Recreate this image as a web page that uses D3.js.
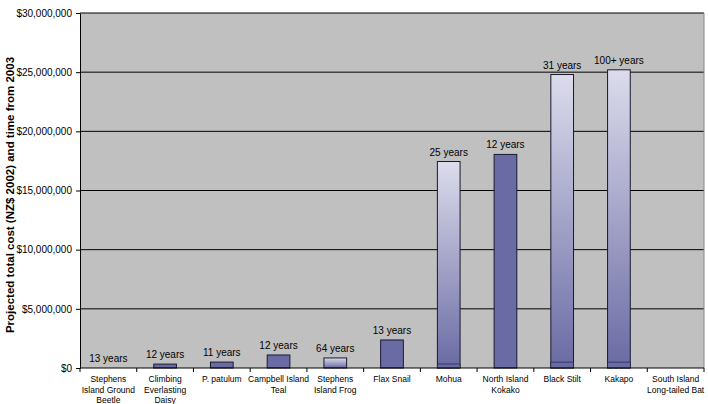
<!DOCTYPE html>
<head>
  <meta charset="utf-8">
  <script src="https://d3js.org/d3.v7.min.js"></script>
  <style>
    body { margin:0; background:#fff; }
    text { font-family: "Liberation Sans", Arial, sans-serif; fill:#000; }
  </style>
</head>
<body>
<script>
// Data
var categories = ["Stephens Island Ground Beetle", "Climbing Everlasting Daisy", "P. patulum",
  "Campbell Island Teal", "Stephens Island Frog", "Flax Snail", "Mohua", "North Island Kokako",
  "Black Stilt", "Kakapo", "South Island Long-tailed Bat"];
var categoryLines = [["Stephens", "Island Ground", "Beetle"], ["Climbing", "Everlasting", "Daisy"],
  ["P. patulum"], ["Campbell Island", "Teal"], ["Stephens", "Island Frog"], ["Flax Snail"],
  ["Mohua"], ["North Island", "Kokako"], ["Black Stilt"], ["Kakapo"], ["South Island", "Long-tailed Bat"]];
var totalCost = [0, 330000, 500000, 1100000, 850000, 2370000, 17450000, 18050000, 24800000, 25200000, 0];
var baseCost = [0, 0, 0, 0, 0, 0, 340000, 0, 500000, 500000, 0];
var gradientBar = [false, false, false, false, true, false, true, false, true, true, false];
var yearLabels = ["13 years", "12 years", "11 years", "12 years", "64 years", "13 years",
  "25 years", "12 years", "31 years", "100+ years", ""];
var yTicks = [0, 5000000, 10000000, 15000000, 20000000, 25000000, 30000000];

var width = 708, height = 404;
var margin = {top: 13, right: 4, bottom: 36, left: 80};

var svg = d3.select("body").append("svg")
  .attr("width", width)
  .attr("height", height);

var defs = svg.append("defs");
var grad = defs.append("linearGradient")
  .attr("id", "barGrad")
  .attr("x1", 0).attr("y1", 0).attr("x2", 0).attr("y2", 1);
grad.append("stop").attr("offset", "0%").attr("stop-color", "#dcdcec");
grad.append("stop").attr("offset", "100%").attr("stop-color", "#6a6aa4");

var x = d3.scaleBand()
  .domain(categories)
  .range([margin.left, width - margin.right])
  .paddingInner(0.6)
  .paddingOuter(0.3);

var y = d3.scaleLinear()
  .domain([0, 30000000])
  .range([height - margin.bottom, margin.top]);

// plot background
svg.append("rect")
  .attr("x", margin.left)
  .attr("y", margin.top)
  .attr("width", width - margin.right - margin.left)
  .attr("height", y(0) - margin.top)
  .attr("fill", "#c0c0c0");

// gridlines
svg.append("g").selectAll("line")
  .data(yTicks.slice(1))
  .join("line")
  .attr("x1", margin.left).attr("x2", width - margin.right)
  .attr("y1", d => y(d)).attr("y2", d => y(d))
  .attr("stroke", "#000").attr("stroke-width", 1);

// right border
svg.append("line")
  .attr("x1", width - margin.right).attr("x2", width - margin.right)
  .attr("y1", margin.top).attr("y2", y(0))
  .attr("stroke", "#888");

// y axis
var yAxis = svg.append("g")
  .attr("transform", "translate(" + margin.left + ",0)")
  .call(d3.axisLeft(y).tickValues(yTicks).tickSize(4).tickSizeOuter(0)
    .tickFormat(d => "$" + d3.format(",")(d)));
yAxis.selectAll("text").style("font-size", "10px").attr("dx", "-1");
yAxis.select(".domain").attr("stroke", "#000");

// bars
var bars = svg.append("g");
categories.forEach(function(c, i) {
  if (totalCost[i] <= 0) return;
  bars.append("rect")
    .attr("x", x(c))
    .attr("width", x.bandwidth())
    .attr("y", y(totalCost[i]))
    .attr("height", y(0) - y(totalCost[i]))
    .attr("fill", gradientBar[i] ? "url(#barGrad)" : "#6a6aa4")
    .attr("stroke", "#1a1a2e").attr("stroke-width", 1);
  if (baseCost[i] > 0) {
    bars.append("rect")
      .attr("x", x(c))
      .attr("width", x.bandwidth())
      .attr("y", y(baseCost[i]))
      .attr("height", y(0) - y(baseCost[i]))
      .attr("fill", "#6a6aa4")
      .attr("stroke", "#1a1a2e").attr("stroke-width", 0.6);
  }
});

// year labels
svg.append("g").selectAll("text")
  .data(categories)
  .join("text")
  .attr("x", d => x(d) + x.bandwidth() / 2)
  .attr("y", (d, i) => y(totalCost[i]) - 6)
  .attr("text-anchor", "middle")
  .style("font-size", "10px")
  .text((d, i) => yearLabels[i]);

// x axis line
svg.append("line")
  .attr("x1", margin.left).attr("x2", width - margin.right)
  .attr("y1", y(0)).attr("y2", y(0))
  .attr("stroke", "#000");

// x ticks at band boundaries
var step = x.step();
var boundaries = d3.range(categories.length + 1).map(i => margin.left + i * step);
svg.append("g").selectAll("line")
  .data(boundaries)
  .join("line")
  .attr("x1", d => d).attr("x2", d => d)
  .attr("y1", y(0)).attr("y2", y(0) + 4)
  .attr("stroke", "#000");

// category labels
var catG = svg.append("g").selectAll("text")
  .data(categories)
  .join("text")
  .attr("text-anchor", "middle")
  .style("font-size", "8.5px")
  .attr("transform", d => "translate(" + (x(d) + x.bandwidth() / 2) + "," + (y(0) + 14) + ")");
catG.each(function(d, i) {
  d3.select(this).selectAll("tspan")
    .data(categoryLines[i])
    .join("tspan")
    .attr("x", 0)
    .attr("dy", (t, j) => j === 0 ? 0 : 10.5)
    .text(t => t);
});

// y axis title
svg.append("text")
  .attr("transform", "translate(14,195) rotate(-90)")
  .attr("text-anchor", "middle")
  .style("font-size", "11.5px")
  .style("font-weight", "bold")
  .text("Projected total cost (NZ$ 2002) and time from 2003");
</script>
</body>
